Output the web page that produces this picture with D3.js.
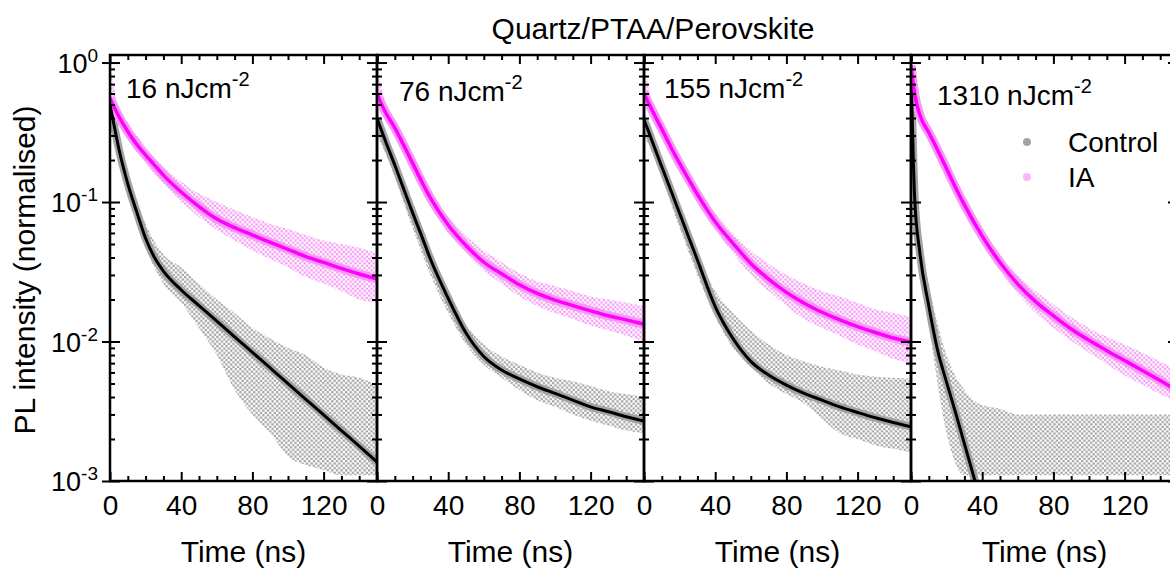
<!DOCTYPE html>
<html>
<head>
<meta charset="utf-8">
<script src="https://cdn.jsdelivr.net/npm/d3@7"></script>
<style>
body { margin: 0; background: #fff; }
svg { font-family: Arial, "Liberation Sans", sans-serif; }
</style>
</head>
<body>
<svg id="chart" width="1170" height="569"></svg>
<script>
// ---- data ----
var fluences = ["16", "76", "155", "1310"];
var xMajor = [0, 40, 80, 120];
var decades = [1e-3, 1e-2, 1e-1, 1];
var decadeExp = ["-3", "-2", "-1", "0"];

// fitted decays (normalised PL) at these times, ns
var fitTimes = [0, 2, 5, 10, 15, 20, 25, 30, 40, 50, 60, 70, 80, 90, 100, 110, 120, 130, 140, 150];
var ctrlFit16 = [0.50, 0.37, 0.24, 0.135, 0.085, 0.055, 0.040, 0.032, 0.0234, 0.0181, 0.0140, 0.0108, 0.00836, 0.00646, 0.00499, 0.00385, 0.00298, 0.0023, 0.00178, 0.00137];
var iaFit16 = [0.553, 0.49, 0.41, 0.32, 0.259, 0.217, 0.184, 0.156, 0.118, 0.0927, 0.0755, 0.0655, 0.058, 0.0514, 0.0458, 0.0406, 0.0369, 0.0334, 0.0305, 0.028];
var ctrlFit76 = [0.40, 0.34, 0.268, 0.184, 0.124, 0.0838, 0.0574, 0.039, 0.0204, 0.0115, 0.0078, 0.00625, 0.00539, 0.00474, 0.00425, 0.0038, 0.0034, 0.00314, 0.00289, 0.00269];
var iaFit76 = [0.60, 0.52, 0.435, 0.34, 0.255, 0.19, 0.141, 0.107, 0.0685, 0.0488, 0.037, 0.0306, 0.0255, 0.0221, 0.0198, 0.0181, 0.0166, 0.0153, 0.0143, 0.0133];
var ctrlFit155 = [0.387, 0.335, 0.264, 0.179, 0.122, 0.083, 0.0564, 0.0384, 0.0178, 0.0105, 0.0072, 0.00575, 0.00487, 0.00425, 0.0038, 0.0034, 0.0031, 0.00284, 0.00263, 0.00245];
var iaFit155 = [0.60, 0.53, 0.444, 0.333, 0.249, 0.189, 0.146, 0.1135, 0.0723, 0.0506, 0.0363, 0.028, 0.0225, 0.0188, 0.0162, 0.0143, 0.0128, 0.0116, 0.0106, 0.0099];
var ctrlFit1310 = [0.95, 0.11, 0.043, 0.018, 0.0086, 0.0051, 0.0031, 0.00185, 0.00066, null, null, null, null, null, null, null, null, null, null, null];
var iaFit1310 = [0.95, 0.6, 0.42, 0.315, 0.235, 0.173, 0.127, 0.0953, 0.0569, 0.0368, 0.0258, 0.0193, 0.0153, 0.0123, 0.0102, 0.0086, 0.0073, 0.0062, 0.00525, 0.0044];

// spread of the measured points (upper / lower edge of each cloud)
var envTimes = [0, 5, 10, 20, 30, 40, 50, 60, 70, 80, 90, 100, 110, 120, 130, 140, 150];
var ctrlHi16 = [0.6, 0.28, 0.16, 0.07, 0.042, 0.034, 0.026, 0.02, 0.016, 0.0125, 0.0105, 0.009, 0.008, 0.0065, 0.0058, 0.0055, 0.0049];
var ctrlLo16 = [0.4, 0.2, 0.115, 0.047, 0.026, 0.019, 0.0125, 0.008, 0.0045, 0.003, 0.0022, 0.0015, 0.0013, 0.0012, 0.0011, 0.0011, 0.0011];
var iaHi16 = [0.95, 0.47, 0.37, 0.25, 0.18, 0.14, 0.115, 0.1, 0.088, 0.078, 0.07, 0.064, 0.058, 0.053, 0.05, 0.047, 0.043];
var iaLo16 = [0.5, 0.36, 0.28, 0.19, 0.135, 0.1, 0.078, 0.063, 0.053, 0.045, 0.039, 0.034, 0.029, 0.026, 0.023, 0.02, 0.019];
var ctrlHi76 = [0.45, 0.3, 0.19, 0.085, 0.04, 0.021, 0.013, 0.0095, 0.0078, 0.0068, 0.006, 0.0055, 0.0052, 0.0048, 0.0044, 0.0042, 0.004];
var ctrlLo76 = [0.3, 0.22, 0.15, 0.065, 0.03, 0.016, 0.0095, 0.0068, 0.0055, 0.0045, 0.0038, 0.0034, 0.003, 0.0027, 0.0025, 0.0023, 0.0022];
var iaHi76 = [0.95, 0.5, 0.37, 0.21, 0.12, 0.078, 0.057, 0.045, 0.037, 0.031, 0.027, 0.025, 0.023, 0.021, 0.02, 0.019, 0.018];
var iaLo76 = [0.5, 0.4, 0.31, 0.17, 0.097, 0.06, 0.043, 0.032, 0.026, 0.021, 0.018, 0.016, 0.0145, 0.013, 0.012, 0.011, 0.01];
var ctrlHi155 = [0.45, 0.29, 0.18, 0.08, 0.042, 0.023, 0.016, 0.012, 0.0095, 0.008, 0.0072, 0.0066, 0.0062, 0.0058, 0.0056, 0.0055, 0.0054];
var ctrlLo155 = [0.3, 0.22, 0.15, 0.065, 0.03, 0.015, 0.009, 0.0065, 0.005, 0.0042, 0.0036, 0.0028, 0.0022, 0.002, 0.0018, 0.0017, 0.0016];
var iaHi155 = [0.95, 0.5, 0.36, 0.21, 0.13, 0.083, 0.06, 0.045, 0.036, 0.03, 0.026, 0.023, 0.021, 0.019, 0.017, 0.016, 0.015];
var iaLo155 = [0.5, 0.4, 0.3, 0.17, 0.1, 0.063, 0.043, 0.03, 0.023, 0.018, 0.0145, 0.0125, 0.011, 0.0095, 0.0085, 0.0075, 0.007];
var ctrlHi1310 = [0.9, 0.06, 0.026, 0.008, 0.0045, 0.0035, 0.0033, 0.003, 0.003, 0.003, 0.003, 0.003, 0.003, 0.003, 0.003, 0.003, 0.003];
var ctrlLo1310 = [0.2, 0.035, 0.013, 0.0022, 0.0011, 0.0011, 0.0011, 0.0011, 0.0011, 0.0011, 0.0011, 0.0011, 0.0011, 0.0011, 0.0011, 0.0011, 0.0011];
var iaHi1310 = [1.0, 0.46, 0.34, 0.19, 0.105, 0.064, 0.042, 0.03, 0.023, 0.0185, 0.015, 0.0125, 0.0108, 0.0095, 0.0083, 0.0072, 0.0062];
var iaLo1310 = [0.7, 0.38, 0.29, 0.16, 0.086, 0.05, 0.032, 0.022, 0.016, 0.0125, 0.0101, 0.0083, 0.0069, 0.0057, 0.0049, 0.0042, 0.0036];

var panels = [
  { fluence: fluences[0], ctrlFit: ctrlFit16, iaFit: iaFit16, ctrlHi: ctrlHi16, ctrlLo: ctrlLo16, iaHi: iaHi16, iaLo: iaLo16 },
  { fluence: fluences[1], ctrlFit: ctrlFit76, iaFit: iaFit76, ctrlHi: ctrlHi76, ctrlLo: ctrlLo76, iaHi: iaHi76, iaLo: iaLo76 },
  { fluence: fluences[2], ctrlFit: ctrlFit155, iaFit: iaFit155, ctrlHi: ctrlHi155, ctrlLo: ctrlLo155, iaHi: iaHi155, iaLo: iaLo155 },
  { fluence: fluences[3], ctrlFit: ctrlFit1310, iaFit: iaFit1310, ctrlHi: ctrlHi1310, ctrlLo: ctrlLo1310, iaHi: iaHi1310, iaLo: iaLo1310 }
];

// ---- layout ----
var plotLeft = 110, panelW = 267, plotTop = 55, plotBottom = 481;
var labelPos = [[126, 98], [399, 101], [664, 98], [937, 105]];
var grey = "#a3a3a3", pink = "#f599f5", magenta = "#ff00ff";

var svg = d3.select("#chart");
var defs = svg.append("defs");

function dotPattern(id, colour) {
  var p = defs.append("pattern").attr("id", id)
    .attr("patternUnits", "userSpaceOnUse").attr("width", 4.6).attr("height", 4.6);
  p.append("circle").attr("cx", 1.2).attr("cy", 1.2).attr("r", 1.3).attr("fill", colour);
  p.append("circle").attr("cx", 3.5).attr("cy", 3.5).attr("r", 1.3).attr("fill", colour);
}
dotPattern("dotsGrey", grey);
dotPattern("dotsPink", pink);

var y = d3.scaleLog().domain([1e-3, Math.pow(10, 0.054)]).range([plotBottom, plotTop]);
var minorY = y.ticks().filter(function (d) { return decades.indexOf(d) < 0; });
var minorX = d3.range(0, 151, 10).filter(function (d) { return xMajor.indexOf(d) < 0; });

function styleAxis(sel) {
  sel.select(".domain").remove();
  sel.selectAll("line").attr("stroke", "#000").attr("stroke-width", 2);
}

panels.forEach(function (p, i) {
  var left = plotLeft + i * panelW;
  var x = d3.scaleLinear().domain([0, 150]).range([left, left + panelW]);
  var g = svg.append("g");

  defs.append("clipPath").attr("id", "clip" + i)
    .append("rect").attr("x", left).attr("y", plotTop)
    .attr("width", panelW).attr("height", plotBottom - plotTop);

  var plot = g.append("g").attr("clip-path", "url(#clip" + i + ")");

  var area = function (hi, lo) {
    return d3.area()
      .x(function (d, k) { return x(envTimes[k]); })
      .y0(function (d, k) { return y(lo[k]); })
      .y1(function (d, k) { return y(hi[k]); })
      .curve(d3.curveMonotoneX)(hi);
  };
  var line = d3.line()
    .defined(function (d) { return d !== null; })
    .x(function (d, k) { return x(fitTimes[k]); })
    .y(function (d) { return y(d); })
    .curve(d3.curveMonotoneX);

  // measured point clouds
  plot.append("path").attr("d", area(p.ctrlHi, p.ctrlLo)).attr("fill", "url(#dotsGrey)");
  plot.append("path").attr("d", area(p.iaHi, p.iaLo)).attr("fill", "url(#dotsPink)");
  plot.append("path").attr("d", line(p.ctrlFit)).attr("fill", "none")
    .attr("stroke", grey).attr("stroke-width", 8).attr("stroke-linejoin", "round");
  plot.append("path").attr("d", line(p.iaFit)).attr("fill", "none")
    .attr("stroke", pink).attr("stroke-width", 9).attr("stroke-linejoin", "round");

  // fits
  plot.append("path").attr("d", line(p.ctrlFit)).attr("fill", "none")
    .attr("stroke", "#000").attr("stroke-width", 3);
  plot.append("path").attr("d", line(p.iaFit)).attr("fill", "none")
    .attr("stroke", magenta).attr("stroke-width", 3.5);

  // axes
  g.append("g").attr("transform", "translate(0," + plotBottom + ")")
    .call(d3.axisBottom(x).tickValues(xMajor).tickSize(-9).tickPadding(14).tickFormat(d3.format("d")))
    .call(styleAxis)
    .call(function (s) {
      s.selectAll("text").attr("fill", "#000").attr("font-size", 28)
        .attr("font-family", "Arial, 'Liberation Sans', sans-serif");
    });
  g.append("g").attr("transform", "translate(0," + plotBottom + ")")
    .call(d3.axisBottom(x).tickValues(minorX).tickSize(-5).tickFormat(""))
    .call(styleAxis);
  g.append("g").attr("transform", "translate(0," + plotTop + ")")
    .call(d3.axisTop(x).tickValues(xMajor.concat([150])).tickSize(-9).tickFormat(""))
    .call(styleAxis);
  g.append("g").attr("transform", "translate(0," + plotTop + ")")
    .call(d3.axisTop(x).tickValues(minorX).tickSize(-5).tickFormat(""))
    .call(styleAxis);

  [[d3.axisLeft, left], [d3.axisRight, left + panelW]].forEach(function (a) {
    g.append("g").attr("transform", "translate(" + a[1] + ",0)")
      .call(a[0](y).tickValues(decades).tickSize(-10).tickFormat(""))
      .call(styleAxis);
    g.append("g").attr("transform", "translate(" + a[1] + ",0)")
      .call(a[0](y).tickValues(minorY).tickSize(-5).tickFormat(""))
      .call(styleAxis);
  });
  if (i === 0) {
    g.append("g").attr("transform", "translate(" + left + ",0)")
      .call(d3.axisLeft(y).tickValues(decades).tickSize(8).tickFormat(""))
      .call(styleAxis);
  }

  g.append("rect").attr("x", left).attr("y", plotTop)
    .attr("width", panelW).attr("height", plotBottom - plotTop)
    .attr("fill", "none").attr("stroke", "#000").attr("stroke-width", 2.5);

  g.append("text").attr("x", left + panelW / 2).attr("y", 562)
    .attr("text-anchor", "middle").attr("font-size", 30).text("Time (ns)");

  var lab = g.append("text").attr("x", labelPos[i][0]).attr("y", labelPos[i][1])
    .attr("font-size", 28);
  lab.append("tspan").text(p.fluence + " nJcm");
  lab.append("tspan").attr("font-size", 20).attr("dy", -12).text("-2");
});

// y tick labels
decades.forEach(function (d, k) {
  var t = svg.append("text").attr("x", 98).attr("y", y(d) + 10)
    .attr("text-anchor", "end").attr("font-size", 27);
  t.append("tspan").text("10");
  t.append("tspan").attr("font-size", 19).attr("dy", -11).text(decadeExp[k]);
});

svg.append("text").attr("transform", "translate(35,270) rotate(-90)")
  .attr("text-anchor", "middle").attr("font-size", 30).text("PL intensity (normalised)");

svg.append("text").attr("x", 653).attr("y", 39)
  .attr("text-anchor", "middle").attr("font-size", 30).text("Quartz/PTAA/Perovskite");

// legend
var legend = [["Control", grey, 152], ["IA", "#fbb6fb", 187]];
legend.forEach(function (l) {
  svg.append("circle").attr("cx", 1027).attr("cy", l[2] - 10).attr("r", 4).attr("fill", l[1]);
  svg.append("text").attr("x", 1068).attr("y", l[2]).attr("font-size", 28).text(l[0]);
});
</script>
</body>
</html>
